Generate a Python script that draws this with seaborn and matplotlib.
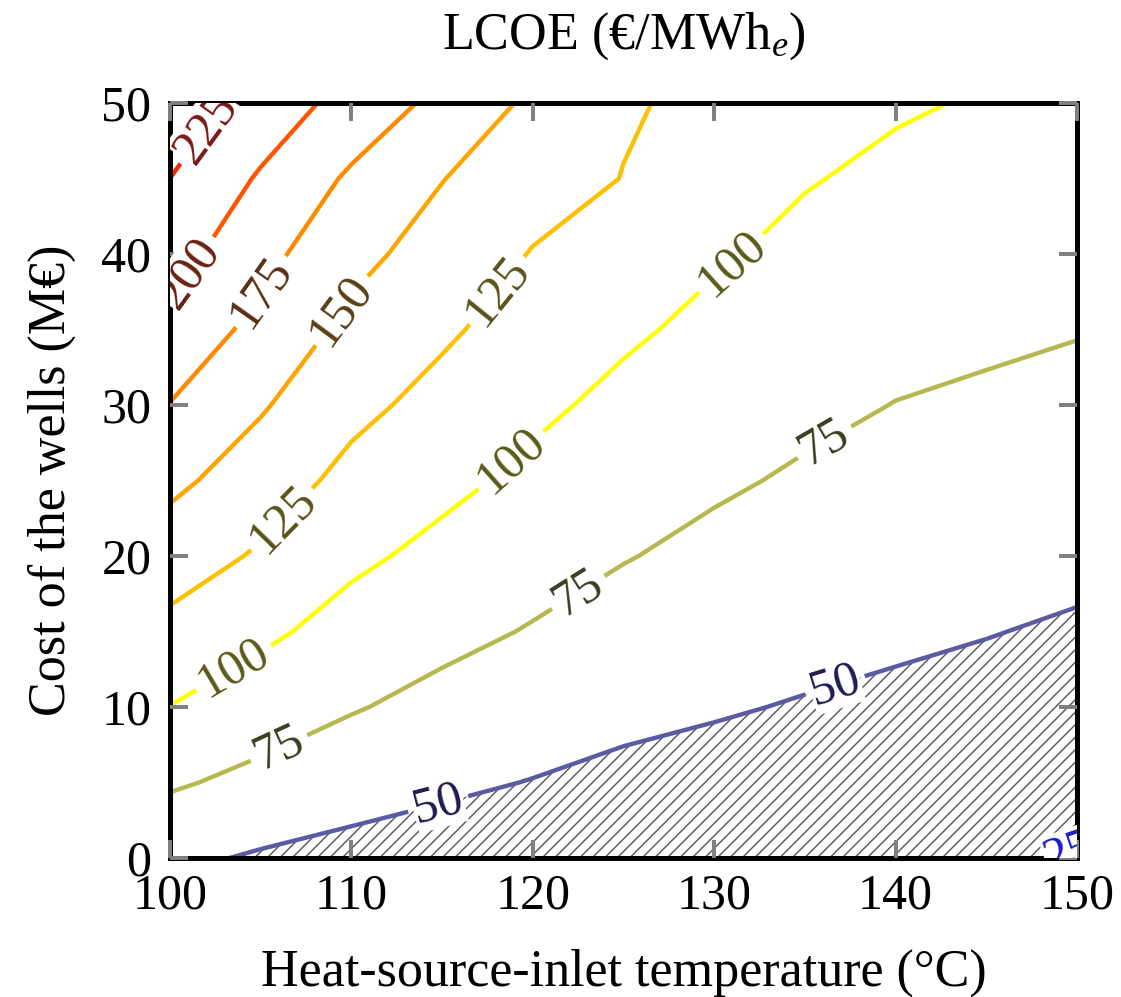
import numpy as np
import matplotlib
matplotlib.use("Agg")
import matplotlib.pyplot as plt
from matplotlib.patches import PathPatch
import seaborn as sns

# heat-source-inlet temperature (degC) and cost of the wells (MEUR)
temperatures = [100, 105, 110, 115, 120, 125, 130, 135, 140, 145, 150]
well_costs = [0, 5, 10, 15, 20, 25, 30, 35, 40, 45, 50]

# LCOE (EUR/MWh_e) along the cost axis, one list per temperature
lcoe_100 = [54.7, 78.0, 99.6, 118.6, 137.1, 155.6, 174.3, 193.2, 209.8, 224.9, 240.0]
lcoe_105 = [47.5, 68.6, 87.3, 104.9, 122.2, 137.5, 152.4, 167.5, 182.4, 197.3, 215.1]
lcoe_110 = [42.8, 59.9, 76.7, 90.9, 104.8, 118.3, 131.3, 143.8, 157.1, 171.3, 191.0]
lcoe_115 = [39.6, 53.9, 68.1, 81.4, 93.8, 105.8, 117.4, 128.7, 139.6, 150.7, 168.6]
lcoe_120 = [37.1, 49.3, 61.4, 73.5, 84.2, 94.7, 104.8, 114.3, 123.9, 134.5, 145.3]
lcoe_125 = [34.6, 45.0, 55.4, 65.8, 76.1, 85.1, 94.2, 103.7, 114.0, 124.5, 127.0]
lcoe_130 = [33.0, 42.9, 51.8, 60.6, 69.5, 78.1, 86.2, 94.3, 102.7, 111.6, 120.5]
lcoe_135 = [31.5, 40.9, 48.7, 56.6, 64.5, 72.3, 79.8, 87.0, 94.2, 101.4, 108.7]
lcoe_140 = [30.0, 39.1, 46.2, 53.3, 60.4, 67.5, 74.6, 81.5, 88.5, 95.4, 102.4]
lcoe_145 = [28.0, 36.6, 43.7, 50.7, 57.8, 64.8, 71.9, 78.6, 85.1, 91.6, 98.2]
lcoe_150 = [24.0, 33.5, 40.6, 47.7, 54.8, 61.9, 69.0, 76.0, 82.5, 89.0, 95.5]

levels = [25, 50, 75, 100, 125, 150, 175, 200, 225]
line_colors = ['#1c1ca0', '#5b5ba3', '#b8b850', '#ffff00', '#ffc000',
               '#ffa500', '#ff8a00', '#ff5500', '#ff2200']
label_colors = ['#1c1cc8', '#1c1c50', '#3c3c20', '#5a5a18', '#5a5218',
                '#5a3e14', '#5a2e12', '#6a2010', '#7a1818']

# where the contour labels sit (temperature, cost)
label_spots = [(149.6, 0.3),
               (114.8, 3.5), (136.7, 11.3),
               (106.0, 7.3), (122.5, 17.6), (136.1, 27.5),
               (103.5, 12.6), (118.9, 26.2), (131.0, 39.3),
               (106.1, 22.5), (118.1, 37.5),
               (109.4, 36.3), (104.9, 37.6), (101.1, 38.7), (102.0, 48.3)]

sns.set_theme(style="ticks")
plt.rcParams['font.family'] = ['Liberation Serif', 'DejaVu Serif']
plt.rcParams['mathtext.fontset'] = 'custom'
plt.rcParams['mathtext.rm'] = 'Liberation Serif'
plt.rcParams['mathtext.it'] = 'Liberation Serif:italic'
plt.rcParams['text.color'] = 'black'
plt.rcParams['axes.labelcolor'] = 'black'
plt.rcParams['axes.axisbelow'] = False
plt.rcParams['xtick.bottom'] = True
plt.rcParams['xtick.top'] = True
plt.rcParams['ytick.left'] = True
plt.rcParams['ytick.right'] = True
plt.rcParams['xtick.direction'] = 'in'
plt.rcParams['ytick.direction'] = 'in'
plt.rcParams['xtick.color'] = '#808080'
plt.rcParams['ytick.color'] = '#808080'
plt.rcParams['xtick.labelcolor'] = 'black'
plt.rcParams['ytick.labelcolor'] = 'black'
plt.rcParams['xtick.major.size'] = 8.6
plt.rcParams['ytick.major.size'] = 8.6
plt.rcParams['xtick.major.width'] = 1.9
plt.rcParams['ytick.major.width'] = 1.9
plt.rcParams['hatch.linewidth'] = 0.7

lcoe = np.column_stack([lcoe_100, lcoe_105, lcoe_110, lcoe_115, lcoe_120, lcoe_125,
                        lcoe_130, lcoe_135, lcoe_140, lcoe_145, lcoe_150])

fig, ax = plt.subplots(figsize=(1121 / 150, 997 / 150), dpi=150)
fig.subplots_adjust(left=0.1517, right=0.9607, top=0.8967, bottom=0.1394)

# hatched region below 50 EUR/MWh: take the filled region from contourf
cf = ax.contourf(temperatures, well_costs, lcoe, levels=[0, 50], colors='none')
for p in cf.get_paths():
    ax.add_patch(PathPatch(p, facecolor='none', edgecolor='#5a5a5a', linewidth=0,
                           hatch='////', zorder=1.5))
cf.remove()

cs = ax.contour(temperatures, well_costs, lcoe, levels=levels, colors=line_colors,
                linewidths=2.1, zorder=2)
texts = ax.clabel(cs, levels, manual=label_spots, inline=True, inline_spacing=6,
                  fontsize=24, colors=label_colors, fmt='%d')
for t in texts:
    t.set_bbox(dict(facecolor='white', edgecolor='none', pad=0.3))
    t.set_clip_on(True)
    t.set_clip_box(ax.bbox)

ax.set_xlim(100, 150)
ax.set_ylim(0, 50)
ax.set_xticks([100, 110, 120, 130, 140, 150])
ax.set_yticks([0, 10, 20, 30, 40, 50])
ax.tick_params(labelsize=24)
ax.tick_params(axis='x', pad=7)
ax.tick_params(axis='y', pad=9)
for s in ax.spines.values():
    s.set_visible(True)
    s.set_linewidth(2.4)
    s.set_color('black')

ax.set_xlabel('Heat-source-inlet temperature (°C)', fontsize=25, labelpad=14)
ax.set_ylabel('Cost of the wells (M€)', fontsize=25, labelpad=12)
ax.set_title('LCOE (€/MWh$_{e}$)', fontsize=25, pad=26)

plt.savefig('out.png', dpi=150)
plt.close()
